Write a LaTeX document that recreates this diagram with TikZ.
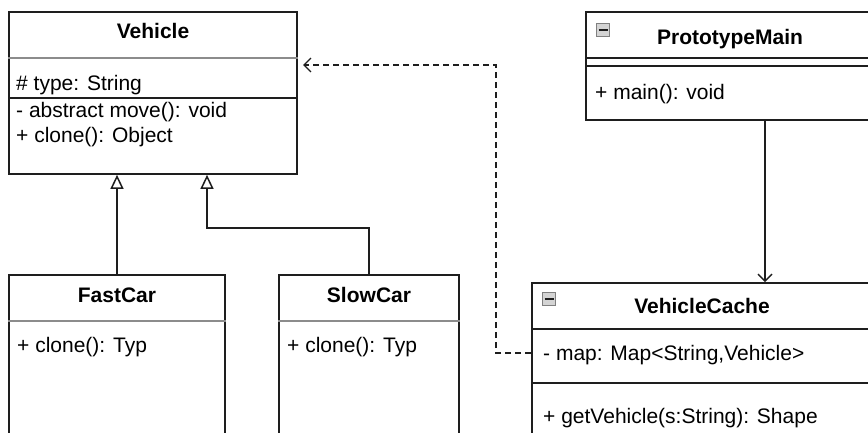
\documentclass[tikz,border=0pt]{standalone}
\usepackage{fontspec}
\setmainfont{Liberation Sans}
\usetikzlibrary{arrows.meta}

\definecolor{ink}{HTML}{1E1E1E}
\definecolor{sepgray}{HTML}{8C8C8C}
\definecolor{iconfill}{HTML}{D4D4D4}

\tikzset{
  umlbox/.style={draw=ink, line width=1.7pt, fill=white, rectangle, inner sep=0pt},
  sep/.style={draw=ink, line width=1.4pt},
  softsep/.style={draw=sepgray, line width=2.2pt},
  title/.style={font=\fontsize{21}{24}\selectfont\bfseries, anchor=base, inner sep=0pt, text=black},
  member/.style={font=\fontsize{21}{24}\selectfont, anchor=base west, inner sep=0pt, text=black},
  inherit/.style={draw=ink, line width=1.5pt, -{Triangle[open, length=14pt, width=13pt, line width=1.5pt]}},
  assoc/.style={draw=ink, line width=1.4pt, -{Straight Barb[length=7pt, width=14pt, line width=1.4pt]}},
  depend/.style={draw=ink, line width=1.4pt, dash pattern=on 6pt off 4pt,
                 -{Straight Barb[length=7pt, width=14pt, line width=1.4pt]}},
  collapse/.style={draw=gray, line width=1pt, fill=iconfill, minimum size=13pt, inner sep=0pt, rectangle},
}

\begin{document}
\begin{tikzpicture}[x=1pt, y=-1pt]
  \useasboundingbox (0,0) rectangle (868,433);
  \clip (0,0) rectangle (868,433);
  \fill[white] (0,0) rectangle (868,433);

  % ---- Vehicle ----
  \node[umlbox, minimum width=288pt, minimum height=162pt] (vehicle) at (153,93) {};
  \draw[softsep] (vehicle.west |- 0,58) -- (vehicle.east |- 0,58);
  \draw[sep] (vehicle.west |- 0,98) -- (vehicle.east |- 0,98);
  \node[title] (vehicleT) at (153,39) {Vehicle};
  \node[member] (vType) at (16,91) {\# type: String};
  \node[member] (vMove) at (16,118) {- abstract move(): void};
  \node[member] (vClone) at (16,143) {+ clone(): Object};

  % ---- FastCar ----
  \node[umlbox, minimum width=216pt, minimum height=180pt] (fastcar) at (117,365) {};
  \draw[softsep] (fastcar.west |- 0,321) -- (fastcar.east |- 0,321);
  \node[title] (fastcarT) at (117,302) {FastCar};
  \node[member] (fClone) at (17,352) {+ clone(): Typ};

  % ---- SlowCar ----
  \node[umlbox, minimum width=180pt, minimum height=180pt] (slowcar) at (369,365) {};
  \draw[softsep] (slowcar.west |- 0,321) -- (slowcar.east |- 0,321);
  \node[title] (slowcarT) at (369,302) {SlowCar};
  \node[member] (sClone) at (287,352) {+ clone(): Typ};

  % ---- PrototypeMain ----
  \node[umlbox, minimum width=288pt, minimum height=108pt] (pmain) at (730,66) {};
  \draw[sep] (pmain.west |- 0,58) -- (pmain.east |- 0,58);
  \draw[sep] (pmain.west |- 0,66) -- (pmain.east |- 0,66);
  \node[collapse] (pmainIcon) at (603,30) {};
  \draw[ink, line width=1.4pt] ([xshift=2.5pt]pmainIcon.west) -- ([xshift=-2.5pt]pmainIcon.east);
  \node[title] (pmainT) at (730,45) {PrototypeMain};
  \node[member] (pMain) at (595,100) {+ main(): void};

  % ---- VehicleCache ----
  \node[umlbox, minimum width=340pt, minimum height=170pt] (vcache) at (702,368) {};
  \draw[sep] (vcache.west |- 0,329) -- (vcache.east |- 0,329);
  \draw[sep] (vcache.west |- 0,383) -- (vcache.east |- 0,383);
  \node[collapse] (vcacheIcon) at (549,299) {};
  \draw[ink, line width=1.4pt] ([xshift=2.5pt]vcacheIcon.west) -- ([xshift=-2.5pt]vcacheIcon.east);
  \node[title] (vcacheT) at (702,313) {VehicleCache};
  \node[member] (cMap) at (543,360) {- map: Map<String,Vehicle>};
  \node[member] (cGet) at (543,423) {+ getVehicle(s:String): Shape};

  % ---- connectors ----
  \coordinate (fastJoin) at (117,0);
  \draw[inherit] (fastcar.north -| fastJoin) -- (vehicle.south -| fastJoin);

  \coordinate (slowElbow) at (207,228);
  \draw[inherit] (slowcar.north) |- (slowElbow) -- (vehicle.south -| slowElbow);

  \coordinate (usesX) at (765,0);
  \draw[assoc] (pmain.south -| usesX) -- (vcache.north -| usesX);

  \coordinate (depCorner) at (496,353);
  \coordinate (depTarget) at (303,65);
  \draw[depend] (vcache.west |- depCorner) -- (depCorner) |- (depTarget);
\end{tikzpicture}
\end{document}
